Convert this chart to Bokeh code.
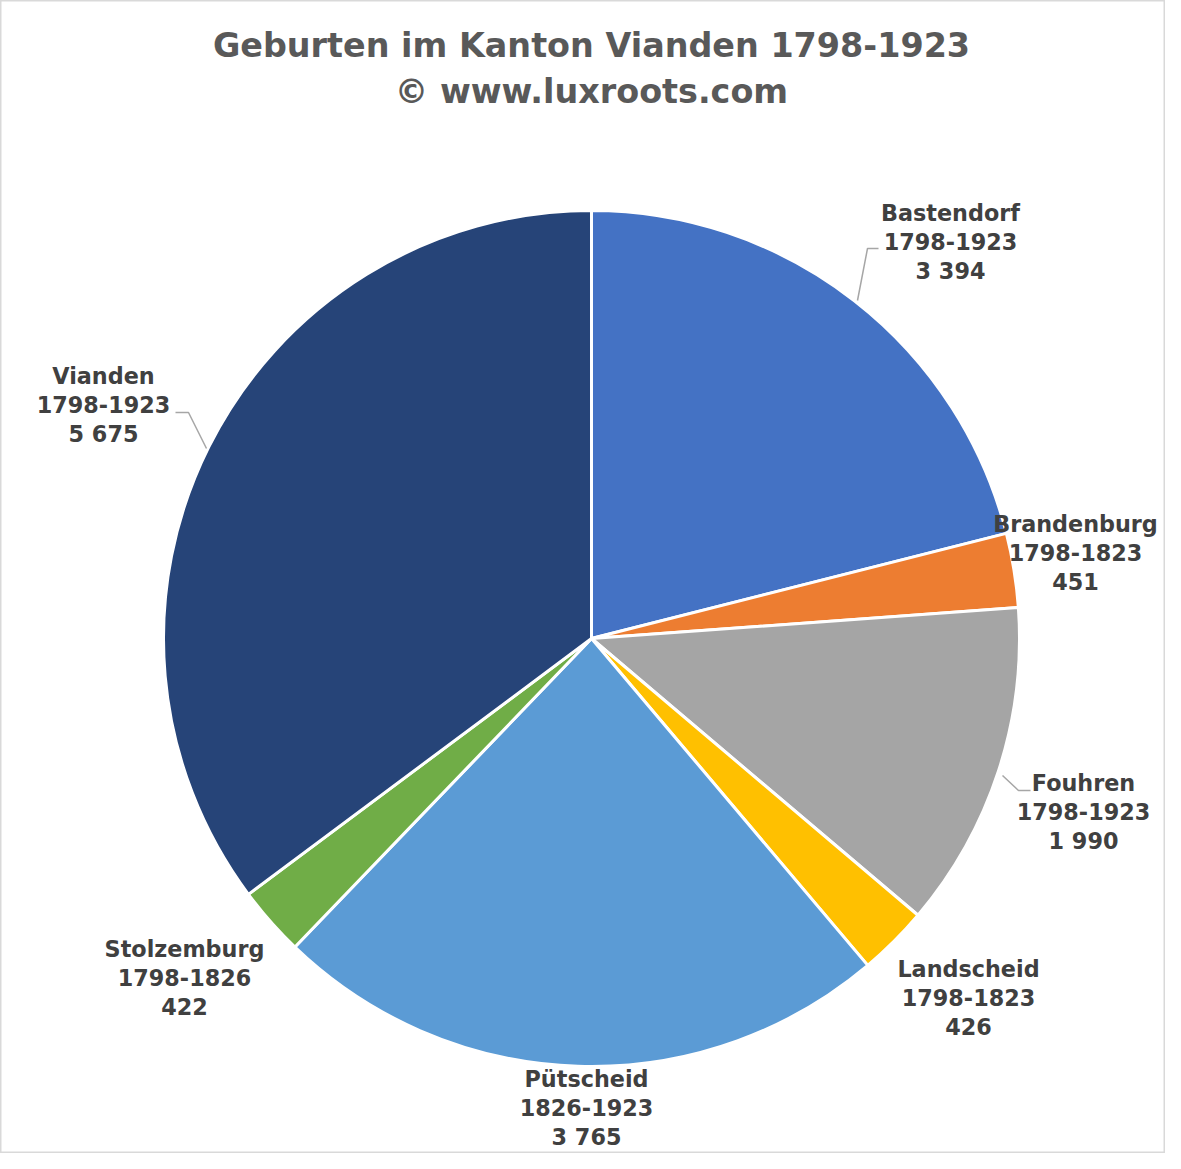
import math
from bokeh.plotting import figure
from bokeh.models import Range1d
from bokeh.core.properties import value
from bokeh.embed import file_html
from bokeh.resources import INLINE

# ---- data ----
places = ["Bastendorf", "Brandenburg", "Fouhren", "Landscheid", "Pütscheid", "Stolzemburg", "Vianden"]
periods = ["1798-1923", "1798-1823", "1798-1923", "1798-1823", "1826-1923", "1798-1826", "1798-1923"]
births = [3394, 451, 1990, 426, 3765, 422, 5675]
colors = ["#4472C4", "#ED7D31", "#A5A5A5", "#FFC000", "#5B9BD5", "#70AD47", "#264478"]
title_lines = ["Geburten im Kanton Vianden 1798-1923", "© www.luxroots.com"]

# ---- layout (reference pixel coords; y measured from top) ----
W, H = 1165, 1153
CX, CY, R = 591, 638, 428
label_pos = {  # centre of middle text line
    "Bastendorf": (950, 241),
    "Brandenburg": (1075, 552),
    "Fouhren": (1083, 811),
    "Landscheid": (968, 997),
    "Pütscheid": (586, 1107),
    "Stolzemburg": (184, 977),
    "Vianden": (103, 404),
}
leaders = {
    "Bastendorf": [(857, 300), (867, 248), (878, 248)],
    "Vianden": [(175, 412), (188, 412), (206, 448)],
    "Fouhren": [(1002, 775), (1018, 790), (1030, 790)],
}

def Y(y):
    return H - y

p = figure(width=W, height=H, output_backend="svg", toolbar_location=None,
           x_range=Range1d(0, W), y_range=Range1d(0, H),
           x_axis_location=None, y_axis_location=None, min_border=0)
p.grid.visible = False
p.outline_line_color = "#d9d9d9"
p.outline_line_width = 2
p.background_fill_color = "white"
p.border_fill_color = "white"

total = sum(births)
starts, ends = [], []
cum = 0
for v in births:
    starts.append(math.pi / 2 - 2 * math.pi * cum / total)
    cum += v
    ends.append(math.pi / 2 - 2 * math.pi * cum / total)

p.wedge(x=[CX] * len(births), y=[Y(CY)] * len(births), radius=R,
        start_angle=starts, end_angle=ends, direction="clock",
        fill_color=colors, line_color="white", line_width=3)

# leader lines
for name, pts in leaders.items():
    p.line([q[0] for q in pts], [Y(q[1]) for q in pts], line_color="#a6a6a6", line_width=1.5)

# labels
LH = 29
for name, per, v in zip(places, periods, births):
    lx, ly = label_pos[name]
    num = f"{v:,}".replace(",", " ")
    lines = [name, per, num]
    p.text(x=[lx] * 3, y=[Y(ly - LH), Y(ly), Y(ly + LH)], text=lines,
           text_font=value("DejaVu Sans"), text_font_style="bold",
           text_font_size="22.3px", text_color="#404040",
           text_align="center", text_baseline="middle")

# title
p.text(x=[591, 591], y=[Y(45), Y(91)], text=title_lines,
       text_font=value("DejaVu Sans"), text_font_style="bold",
       text_font_size="33.4px", text_color="#595959",
       text_align="center", text_baseline="middle")

open("out.html", "w").write(file_html(p, INLINE))
